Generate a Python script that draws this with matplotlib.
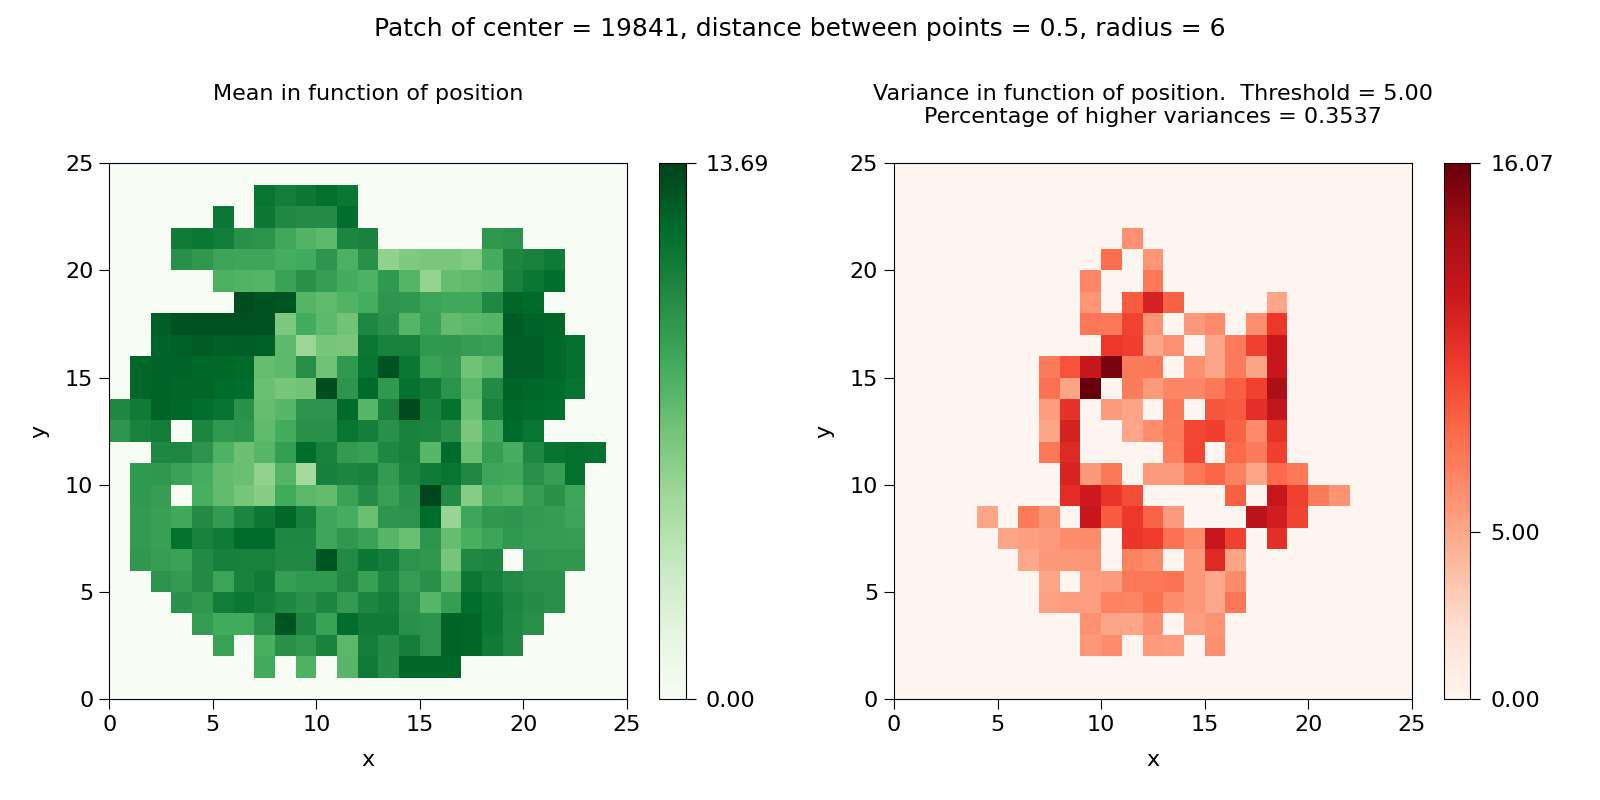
import numpy as np
from matplotlib import pyplot as plt

# rows go from y = 0 (first) to y = 24 (last), columns from x = 0 to x = 24
mean_values = [
    [0] * 25,
    [0, 0, 0, 0, 0, 0, 0, 8.6, 0, 8.1, 0, 7.8, 11.2, 10.2, 12.2, 12.2, 12.2, 0, 0, 0, 0, 0, 0, 0, 0],
    [0, 0, 0, 0, 0, 9.0, 0, 8.3, 9.9, 9.6, 10.7, 7.7, 11.0, 10.2, 11.0, 9.8, 12.4, 12.2, 11.2, 10.4, 0, 0, 0, 0, 0],
    [0, 0, 0, 0, 9.3, 8.6, 8.6, 10.0, 12.9, 10.6, 9.0, 11.9, 11.2, 11.2, 9.9, 9.8, 12.4, 12.2, 11.4, 10.5, 10.0, 0, 0, 0, 0],
    [0, 0, 0, 9.9, 9.6, 11.1, 11.4, 11.0, 10.5, 9.9, 10.6, 9.4, 10.6, 11.0, 9.8, 7.8, 9.2, 11.9, 11.3, 10.6, 10.2, 10.0, 0, 0, 0],
    [0, 0, 9.8, 9.4, 10.3, 8.9, 10.7, 11.2, 9.2, 9.5, 9.5, 10.4, 9.1, 10.5, 9.3, 10.0, 7.8, 11.3, 10.9, 10.3, 10.0, 10.0, 0, 0, 0],
    [0, 9.6, 9.2, 9.0, 10.3, 10.9, 10.8, 10.8, 10.4, 10.4, 12.9, 10.3, 11.3, 11.0, 9.8, 9.6, 6.7, 10.4, 10.6, 0, 9.7, 9.6, 9.6, 0, 0],
    [0, 9.4, 9.1, 11.7, 10.8, 11.2, 12.0, 12.0, 10.5, 10.5, 8.8, 9.6, 9.0, 7.8, 7.2, 9.7, 7.3, 8.3, 8.9, 9.5, 9.3, 9.3, 9.2, 0, 0],
    [0, 9.4, 9.1, 8.7, 10.3, 9.4, 10.6, 11.3, 12.1, 10.9, 8.8, 8.4, 7.2, 9.7, 9.8, 12.0, 5.5, 8.8, 9.6, 9.7, 9.4, 9.3, 8.9, 0, 0],
    [0, 9.5, 9.2, 0, 8.3, 7.4, 6.7, 6.2, 8.6, 7.7, 7.4, 9.0, 10.2, 9.1, 9.9, 13.69, 10.3, 6.2, 8.3, 8.0, 9.2, 9.9, 8.8, 0, 0],
    [0, 9.5, 9.6, 9.0, 8.4, 7.4, 7.2, 5.7, 7.9, 5.0, 10.9, 10.6, 10.7, 9.4, 10.6, 11.2, 11.5, 10.4, 8.8, 8.7, 10.0, 9.2, 11.8, 0, 0],
    [0, 0, 10.5, 10.5, 9.8, 8.1, 7.1, 7.8, 9.2, 11.9, 10.8, 9.4, 9.1, 10.5, 10.8, 7.8, 12.0, 7.2, 9.2, 8.4, 10.5, 11.6, 11.8, 11.7, 0],
    [9.7, 10.7, 11.1, 0, 10.6, 9.5, 9.7, 7.5, 8.5, 9.9, 9.9, 11.5, 11.0, 10.0, 10.7, 10.6, 10.0, 6.6, 8.5, 12.0, 11.5, 0, 0, 0, 0],
    [10.5, 11.2, 12.3, 12.1, 11.9, 11.6, 9.9, 7.3, 7.8, 9.8, 9.8, 12.0, 7.8, 10.7, 13.5, 10.7, 11.7, 7.2, 10.8, 12.1, 12.0, 11.9, 0, 0, 0],
    [0, 12.2, 12.4, 12.2, 12.2, 12.0, 11.9, 7.2, 6.7, 6.9, 13.3, 9.7, 12.0, 9.5, 11.7, 11.2, 9.8, 7.7, 10.3, 12.3, 12.1, 12.0, 11.6, 0, 0],
    [0, 12.2, 12.3, 12.3, 12.1, 12.1, 12.0, 7.3, 7.6, 10.1, 7.0, 9.5, 11.5, 13.1, 11.4, 9.0, 9.4, 7.0, 7.7, 12.6, 12.6, 12.1, 11.8, 0, 0],
    [0, 0, 12.4, 12.5, 12.7, 12.5, 12.6, 12.5, 7.6, 5.4, 6.7, 6.6, 11.4, 10.8, 10.8, 9.5, 9.6, 9.3, 9.1, 12.6, 12.6, 12.1, 11.8, 0, 0],
    [0, 0, 12.6, 13.0, 13.2, 13.2, 13.2, 13.0, 6.5, 8.5, 7.6, 6.9, 10.5, 9.9, 7.9, 9.0, 7.4, 7.7, 7.9, 12.7, 12.4, 12.2, 0, 0, 0],
    [0, 0, 0, 0, 0, 0, 13.3, 13.1, 12.9, 7.9, 7.5, 8.0, 8.4, 9.7, 9.6, 8.9, 8.7, 8.7, 10.4, 12.2, 12.0, 0, 0, 0, 0],
    [0, 0, 0, 0, 0, 8.2, 8.0, 7.9, 9.0, 10.0, 9.2, 8.5, 8.1, 9.5, 7.9, 5.6, 7.3, 7.5, 7.8, 10.7, 11.4, 11.9, 0, 0, 0],
    [0, 0, 0, 10.0, 9.6, 8.9, 8.8, 8.8, 8.4, 8.6, 9.7, 8.2, 10.0, 5.8, 6.4, 6.6, 6.6, 6.3, 8.5, 10.6, 10.8, 11.2, 0, 0, 0],
    [0, 0, 0, 11.2, 11.4, 11.1, 9.9, 9.8, 8.7, 8.0, 7.6, 10.6, 10.7, 0, 0, 0, 0, 0, 9.6, 9.8, 0, 0, 0, 0, 0],
    [0, 0, 0, 0, 0, 11.3, 0, 11.3, 10.4, 10.2, 10.2, 11.9, 0, 0, 0, 0, 0, 0, 0, 0, 0, 0, 0, 0, 0],
    [0, 0, 0, 0, 0, 0, 0, 11.5, 11.0, 11.3, 11.8, 11.4, 0, 0, 0, 0, 0, 0, 0, 0, 0, 0, 0, 0, 0],
    [0] * 25,
]

variance_values = [
    [0] * 25,
    [0] * 25,
    [0, 0, 0, 0, 0, 0, 0, 0, 0, 5.8, 6.3, 0, 5.6, 5.5, 0, 6.2, 0, 0, 0, 0, 0, 0, 0, 0, 0],
    [0, 0, 0, 0, 0, 0, 0, 0, 0, 6.1, 5.1, 5.1, 6.2, 0, 5.5, 6.0, 0, 0, 0, 0, 0, 0, 0, 0, 0],
    [0, 0, 0, 0, 0, 0, 0, 5.3, 5.5, 5.4, 6.8, 6.7, 7.5, 6.3, 5.8, 5.0, 7.4, 0, 0, 0, 0, 0, 0, 0, 0],
    [0, 0, 0, 0, 0, 0, 0, 5.1, 0, 5.4, 5.6, 7.3, 7.4, 7.5, 5.8, 5.0, 6.4, 0, 0, 0, 0, 0, 0, 0, 0],
    [0, 0, 0, 0, 0, 0, 5.0, 5.7, 5.8, 5.9, 0, 6.8, 6.4, 0, 5.8, 11.0, 5.2, 0, 0, 0, 0, 0, 0, 0, 0],
    [0, 0, 0, 0, 0, 5.1, 5.4, 5.6, 6.3, 6.4, 0, 10.3, 10.0, 7.7, 6.4, 12.2, 9.8, 0, 10.7, 0, 0, 0, 0, 0, 0],
    [0, 0, 0, 0, 5.1, 0, 7.2, 6.0, 0, 12.3, 8.6, 10.2, 8.3, 5.6, 0, 0, 0, 13.0, 11.8, 9.7, 0, 0, 0, 0, 0],
    [0, 0, 0, 0, 0, 0, 0, 0, 10.8, 11.9, 10.4, 9.3, 0, 0, 0, 0, 8.5, 0, 12.3, 9.8, 7.2, 6.0, 0, 0, 0],
    [0, 0, 0, 0, 0, 0, 0, 0, 11.4, 5.7, 7.3, 0, 5.6, 5.6, 7.4, 8.2, 6.9, 5.1, 8.0, 7.3, 0, 0, 0, 0, 0],
    [0, 0, 0, 0, 0, 0, 0, 7.4, 11.0, 0, 0, 0, 0, 7.0, 9.6, 0, 8.0, 7.1, 9.9, 0, 0, 0, 0, 0, 0],
    [0, 0, 0, 0, 0, 0, 0, 5.1, 11.5, 0, 0, 5.1, 6.3, 7.2, 9.5, 9.9, 8.4, 6.5, 10.5, 0, 0, 0, 0, 0, 0],
    [0, 0, 0, 0, 0, 0, 0, 5.5, 10.6, 0, 5.6, 5.2, 0, 7.3, 0, 8.9, 8.6, 10.7, 12.6, 0, 0, 0, 0, 0, 0],
    [0, 0, 0, 0, 0, 0, 0, 7.7, 5.2, 16.07, 0, 7.1, 5.6, 6.6, 6.6, 7.3, 8.5, 9.8, 13.8, 0, 0, 0, 0, 0, 0],
    [0, 0, 0, 0, 0, 0, 0, 7.2, 9.0, 12.2, 15.4, 7.2, 7.3, 0, 6.2, 5.1, 7.2, 5.2, 12.2, 0, 0, 0, 0, 0, 0],
    [0, 0, 0, 0, 0, 0, 0, 0, 0, 0, 10.2, 9.9, 5.1, 6.1, 0, 5.1, 7.2, 9.8, 12.3, 0, 0, 0, 0, 0, 0],
    [0, 0, 0, 0, 0, 0, 0, 0, 0, 7.4, 7.3, 9.7, 6.0, 0, 5.7, 6.4, 0, 6.2, 10.2, 0, 0, 0, 0, 0, 0],
    [0, 0, 0, 0, 0, 0, 0, 0, 0, 5.9, 0, 8.7, 11.5, 8.4, 0, 0, 0, 0, 5.1, 0, 0, 0, 0, 0, 0],
    [0, 0, 0, 0, 0, 0, 0, 0, 0, 6.6, 0, 0, 7.4, 0, 0, 0, 0, 0, 0, 0, 0, 0, 0, 0, 0],
    [0, 0, 0, 0, 0, 0, 0, 0, 0, 0, 7.8, 0, 5.9, 0, 0, 0, 0, 0, 0, 0, 0, 0, 0, 0, 0],
    [0, 0, 0, 0, 0, 0, 0, 0, 0, 0, 0, 6.1, 0, 0, 0, 0, 0, 0, 0, 0, 0, 0, 0, 0, 0],
    [0] * 25,
    [0] * 25,
    [0] * 25,
]

threshold = 5.00
axis_ticks = [0, 5, 10, 15, 20, 25]


def draw_panel(fig, axes_box, bar_box, values, cmap, bar_ticks, title):
    ax = fig.add_axes(axes_box)
    values = np.array(values)
    edges = np.arange(values.shape[0] + 1)
    mesh = ax.pcolormesh(edges, edges, values, cmap=cmap, vmin=0, vmax=values.max())
    ax.set_xticks(axis_ticks)
    ax.set_yticks(axis_ticks)
    ax.tick_params(labelsize=16, length=7, pad=4.5)
    ax.set_xlabel('x', fontsize=16, labelpad=10.5)
    ax.set_ylabel('y', fontsize=16, labelpad=11)
    ax.set_title(title, fontsize=16, pad=29)

    bar_ax = fig.add_axes(bar_box)
    bar = fig.colorbar(mesh, cax=bar_ax)
    bar.set_ticks(bar_ticks)
    bar.set_ticklabels([f'{t:.2f}' for t in bar_ticks])
    bar.ax.tick_params(labelsize=16, length=7, pad=7.4)


fig = plt.figure(figsize=(16, 8), dpi=100)
fig.suptitle('Patch of center = 19841, distance between points = 0.5, radius = 6', fontsize=18, y=0.979)

draw_panel(fig, [0.0683, 0.126, 0.3235, 0.67], [0.412, 0.126, 0.0165, 0.67], mean_values, 'Greens',
           [0, 13.69], 'Mean in function of position\n')
draw_panel(fig, [0.5588, 0.126, 0.3235, 0.67], [0.9025, 0.126, 0.0165, 0.67], variance_values, 'Reds',
           [0, threshold, 16.07],
           'Variance in function of position.  Threshold = 5.00\nPercentage of higher variances = 0.3537')

plt.savefig('out.png')
